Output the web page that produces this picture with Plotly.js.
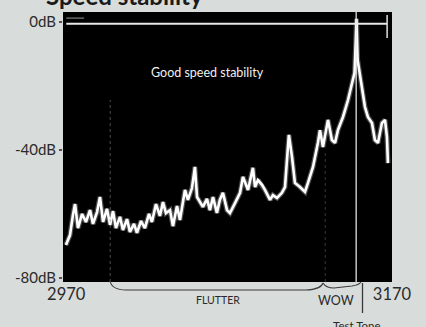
<!DOCTYPE html>
<html>
<head>
<meta charset="utf-8">
<script src="https://cdn.plot.ly/plotly-3.0.1.min.js"></script>
<style>
  html, body { margin: 0; padding: 0; background: #d8dcdb; }
  #chart { width: 426px; height: 327px; }
</style>
</head>
<body>
<div id="chart"></div>
<script>
// ---- data ----
const freqHz = [2969.8, 2972.3, 2974.1, 2975.4, 2977.2, 2979.7, 2982.1, 2984.6, 2986.4, 2988.9,
  2990.7, 2992.6, 2995.0, 2996.9, 2998.7, 3000.5, 3003.0, 3004.8, 3007.3, 3009.1,
  3011.6, 3013.4, 3015.9, 3018.3, 3020.8, 3022.6, 3025.1, 3027.5, 3029.4, 3031.2,
  3033.7, 3035.5, 3038.0, 3039.8, 3042.9, 3044.7, 3047.2, 3049.0, 3050.3, 3052.1,
  3053.9, 3056.4, 3058.2, 3060.1, 3062.5, 3064.3, 3066.2, 3068.7, 3070.5, 3073.6,
  3076.7, 3078.5, 3081.6, 3084.6, 3085.9, 3087.7, 3090.2, 3092.0, 3095.1, 3096.9,
  3099.4, 3102.4, 3104.3, 3106.1, 3106.7, 3108.6, 3110.4, 3113.5, 3116.6, 3118.4,
  3121.5, 3124.5, 3125.8, 3127.6, 3130.7, 3133.1, 3135.0, 3136.8, 3139.9, 3143.0,
  3145.4, 3147.0, 3147.7, 3148.2, 3148.9, 3151.0, 3153.4, 3155.2, 3157.7, 3159.5,
  3161.4, 3163.8, 3165.7, 3166.9, 3167.5];
const levelDb = [-69.7, -66.6, -60.3, -56.9, -64.4, -60.0, -62.5, -58.8, -63.1, -59.4,
  -54.7, -62.5, -58.4, -63.4, -59.1, -64.4, -60.9, -65.0, -61.6, -65.6,
  -63.1, -65.9, -62.2, -64.4, -60.0, -62.5, -56.9, -60.6, -56.3, -59.7,
  -58.8, -63.8, -57.5, -61.9, -52.5, -55.6, -51.9, -45.3, -54.7, -56.3,
  -57.8, -55.3, -58.8, -54.7, -59.7, -55.6, -53.4, -58.8, -59.7, -56.6,
  -53.4, -48.4, -52.5, -45.6, -51.6, -49.4, -50.9, -52.5, -55.6, -54.1,
  -55.0, -53.4, -51.6, -39.1, -35.3, -42.2, -50.3, -51.6, -53.1, -50.3,
  -45.3, -37.8, -33.8, -39.1, -30.6, -36.9, -37.8, -33.8, -29.7, -24.4,
  -19.1, -15.9, -6.6, 1.0, -11.9, -19.1, -26.6, -29.7, -31.6, -36.9,
  -37.8, -31.6, -30.6, -35.9, -44.1];

const refLineHz = [2970, 3167];        // 0 dB reference trace
const refLineDb = [-0.6, -0.6];
const refStubHz = [2970, 2981];        // short upper stub at left
const refStubDb = [1.2, 1.2];
const retraceHz = [3167, 3167];        // right-hand retrace
const retraceDb = [2.2, -5.0];
const testToneHz = 3148;               // test tone marker
const regionHz = [2997, 3129];         // dotted markers (flutter region)

const yTickVals = [0, -40, -80];
const yTickText = ['0dB', '-40dB', '-80dB'];
const xTickVals = [2970, 3170];
const xTickText = ['2970', '3170'];

// ---- layout helpers (pixel -> paper) ----
const L = 63, T = 12, W = 329, H = 270;
const px = x => (x - L) / W;
const py = y => (T + H - y) / H;

const labelFont = { family: 'Lato, "Open Sans", sans-serif', color: '#2a2a2a' };

const traces = [
  { x: freqHz, y: levelDb, mode: 'lines', line: { color: 'rgba(255,255,255,0.3)', width: 5 }, hoverinfo: 'skip', showlegend: false },
  { x: freqHz, y: levelDb, mode: 'lines', line: { color: '#ffffff', width: 2.6 }, showlegend: false },
  { x: refLineHz, y: refLineDb, mode: 'lines', line: { color: '#e8e8e8', width: 2 }, showlegend: false },
  { x: refStubHz, y: refStubDb, mode: 'lines', line: { color: 'rgba(220,220,220,0.7)', width: 1 }, showlegend: false },
  { x: retraceHz, y: retraceDb, mode: 'lines', line: { color: '#e0e0e0', width: 1.5 }, showlegend: false }
];

const shapes = [
  { type: 'line', xref: 'x', yref: 'paper', x0: testToneHz, x1: testToneHz, y0: 0, y1: 1,
    line: { color: 'rgba(235,235,235,0.9)', width: 1.4 } },
  { type: 'line', xref: 'x', yref: 'paper', x0: regionHz[0], x1: regionHz[0], y0: 0, y1: py(100),
    line: { color: 'rgba(140,140,140,0.55)', width: 1, dash: 'dot' } },
  { type: 'line', xref: 'x', yref: 'paper', x0: regionHz[1], x1: regionHz[1], y0: 0, y1: py(150),
    line: { color: 'rgba(110,110,110,0.5)', width: 1, dash: 'dot' } },
  // flutter brace
  { type: 'path', xref: 'paper', yref: 'paper',
    path: `M ${px(110)},${py(281)} Q ${px(112)},${py(290)} ${px(126)},${py(290)} L ${px(306)},${py(290)} Q ${px(321)},${py(289.5)} ${px(323)},${py(283)}`,
    line: { color: '#3a3a3a', width: 1.1 } },
  // wow brace
  { type: 'path', xref: 'paper', yref: 'paper',
    path: `M ${px(323)},${py(283)} Q ${px(326)},${py(288)} ${px(334)},${py(288)} L ${px(352)},${py(286)} Q ${px(359)},${py(285)} ${px(361)},${py(282)}`,
    line: { color: '#3a3a3a', width: 1.1 } },
  // test tone pointer
  { type: 'line', xref: 'paper', yref: 'paper', x0: px(362.5), x1: px(362.5), y0: py(283), y1: py(313),
    line: { color: '#3a3a3a', width: 1.3 } }
];

const annotations = [
  { text: '<b>Speed stability</b>', xref: 'paper', yref: 'paper', x: px(44), y: py(-4), xanchor: 'left', yanchor: 'middle',
    showarrow: false, font: { family: 'Lato, "Open Sans", sans-serif', size: 24, color: '#1a1a1a' } },
  { text: 'Good speed stability', xref: 'paper', yref: 'paper', x: px(207), y: py(72), xanchor: 'center', yanchor: 'middle',
    showarrow: false, font: { family: 'Lato, "Open Sans", sans-serif', size: 12.5, color: '#f0f0f0' } },
  { text: 'FLUTTER', xref: 'paper', yref: 'paper', x: px(218), y: py(300), xanchor: 'center', yanchor: 'middle',
    showarrow: false, font: Object.assign({}, labelFont, { size: 10.5 }) },
  { text: 'WOW', xref: 'paper', yref: 'paper', x: px(336), y: py(300), xanchor: 'center', yanchor: 'middle',
    showarrow: false, font: Object.assign({}, labelFont, { size: 12.5 }) },
  { text: 'Test Tone', xref: 'paper', yref: 'paper', x: px(357), y: py(325), xanchor: 'center', yanchor: 'middle',
    showarrow: false, font: Object.assign({}, labelFont, { size: 11.5 }) }
];

const layout = {
  width: 426, height: 327,
  margin: { l: L, r: 426 - L - W, t: T, b: 327 - T - H, pad: 0 },
  paper_bgcolor: '#d8dcdb',
  plot_bgcolor: '#000000',
  showlegend: false,
  xaxis: {
    range: [2968, 3170], tickvals: xTickVals, ticktext: xTickText,
    showgrid: false, zeroline: false, showline: false, ticks: '',
    tickfont: Object.assign({}, labelFont, { size: 16.5 }), fixedrange: true
  },
  yaxis: {
    range: [-81.25, 3.1], tickvals: yTickVals, ticktext: yTickText,
    showgrid: false, zeroline: false, showline: false,
    ticks: 'outside', ticklen: 3, tickcolor: '#555', tickwidth: 1.5,
    tickfont: Object.assign({}, labelFont, { size: 15 }), fixedrange: true
  },
  shapes: shapes,
  annotations: annotations
};

Plotly.newPlot('chart', traces, layout, { displayModeBar: false, staticPlot: true });
</script>
</body>
</html>
